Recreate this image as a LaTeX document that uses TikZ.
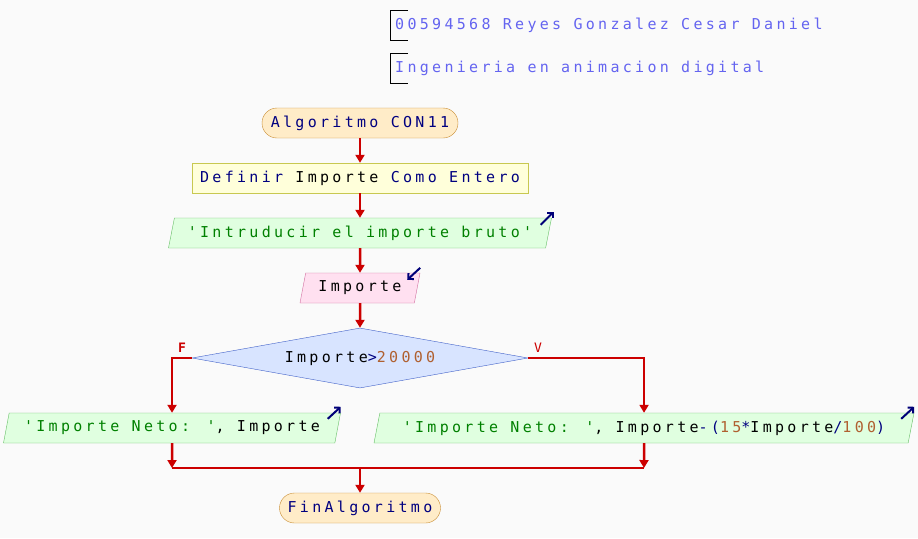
\documentclass[tikz,border=0pt]{standalone}
\usepackage{fontspec}
\usepackage{tikz}
\usetikzlibrary{shapes.geometric, arrows.meta, calc}
\newfontfamily\psfont{DejaVu Sans Mono}[LetterSpace=22]
\definecolor{fondo}{RGB}{250,250,250}
\definecolor{flecha}{RGB}{204,0,0}
\definecolor{clave}{RGB}{0,0,128}
\definecolor{cadena}{RGB}{0,128,0}
\definecolor{numero}{RGB}{176,96,48}
\definecolor{comentario}{RGB}{100,100,240}
\definecolor{icono}{RGB}{0,0,120}
\definecolor{termfill}{RGB}{255,236,200}
\definecolor{termdraw}{RGB}{200,140,50}
\definecolor{procfill}{RGB}{255,255,218}
\definecolor{procdraw}{RGB}{200,200,80}
\definecolor{salfill}{RGB}{224,255,224}
\definecolor{saldraw}{RGB}{100,190,100}
\definecolor{entfill}{RGB}{255,224,240}
\definecolor{entdraw}{RGB}{210,110,160}
\definecolor{condfill}{RGB}{216,228,255}
\definecolor{conddraw}{RGB}{64,96,200}

\begin{document}
\begin{tikzpicture}[x=1pt, y=-1pt,
    every node/.style={font=\psfont\fontsize{15}{17}\selectfont, inner sep=0pt},
    terminal/.style={draw=termdraw, fill=termfill, rounded corners=15pt, minimum height=30pt, text=clave},
    proceso/.style={draw=procdraw, fill=procfill, minimum height=30pt},
    es/.style={trapezium, trapezium left angle=68, trapezium right angle=112, trapezium stretches body, minimum height=30pt},
    salida/.style={es, draw=saldraw, fill=salfill},
    entrada/.style={es, draw=entdraw, fill=entfill},
    flujo/.style={draw=flecha, line width=2.5pt, -{Triangle[length=8pt, width=9pt]}},
    linea/.style={draw=flecha, line width=2.5pt},
    icon/.style={draw=icono, line width=2pt, -{Straight Barb[length=4pt]}}]
    \fill[fondo] (0,0) rectangle (918,538);

    % comentarios
    \draw[line width=1pt] (408,10) -| (390,40) -- (408,40);
    \node[anchor=west, text=comentario] (com1) at (395,25) {00594568 Reyes Gonzalez Cesar Daniel};
    \draw[line width=1pt] (408,53) -| (390,83) -- (408,83);
    \node[anchor=west, text=comentario] (com2) at (395,68) {Ingenieria en animacion digital};

    % bloques
    \node[terminal, minimum width=196pt] (ini) at (360,123) {Algoritmo CON11};
    \node[proceso, minimum width=336pt, text=clave] (def) at (360,178) {Definir \textcolor{black}{Importe} Como Entero};
    \node[salida, minimum width=383pt, text=cadena] (sal1) at (360,233) {'Intruducir el importe bruto'};
    \node[entrada, minimum width=120pt] (ent) at (360,288) {Importe};
    \node[diamond, draw=conddraw, fill=condfill, minimum width=336pt, minimum height=60pt, aspect=5.6] (cond) at (360,358)
        {Importe\textcolor{clave}{>}\textcolor{numero}{20000}};
    \node[salida, minimum width=337pt] (salF) at (172,428)
        {\textcolor{cadena}{'Importe Neto: '}, Importe};
    \node[salida, minimum width=540pt] (salV) at (644,428)
        {\textcolor{cadena}{'Importe Neto: '}, Importe\textcolor{clave}{-(}\textcolor{numero}{15}\textcolor{clave}{*}Importe\textcolor{clave}{/}\textcolor{numero}{100}\textcolor{clave}{)}};
    \node[terminal, minimum width=161pt] (fin) at (360,508) {FinAlgoritmo};

    % etiquetas
    \node[text=flecha, font=\psfont\bfseries\fontsize{13}{14}\selectfont] (lf) at (182,348) {F};
    \node[text=flecha, font=\psfont\fontsize{13}{14}\selectfont] (lv) at (538,348) {V};

    % iconos
    \draw[icon] ($(sal1.top right corner)+(-11,7)$) -- ++(13,-13);
    \draw[icon] ($(ent.top right corner)+(0,-5)$) -- ++(-13,12);
    \draw[icon] ($(salF.top right corner)+(-13,6)$) -- ++(13,-12);
    \draw[icon] ($(salV.top right corner)+(-13,6)$) -- ++(13,-12);

    % conexiones
    \coordinate (uneL) at (172,468);
    \coordinate (uneR) at (644,468);
    \coordinate (une) at (360,468);
    \draw[flujo] (ini) -- (def);
    \draw[flujo] (def) -- (sal1);
    \draw[flujo] (sal1) -- (ent);
    \draw[flujo] (ent) -- (cond);
    \draw[flujo] (cond.west) -| (salF.north);
    \draw[flujo] (cond.east) -| (salV.north);
    \draw[flujo] (salF.south) -- (uneL);
    \draw[flujo] (salV.south) -- (uneR);
    \draw[linea] (uneL) -- (uneR);
    \draw[flujo] (une) -- (fin);
\end{tikzpicture}
\end{document}
